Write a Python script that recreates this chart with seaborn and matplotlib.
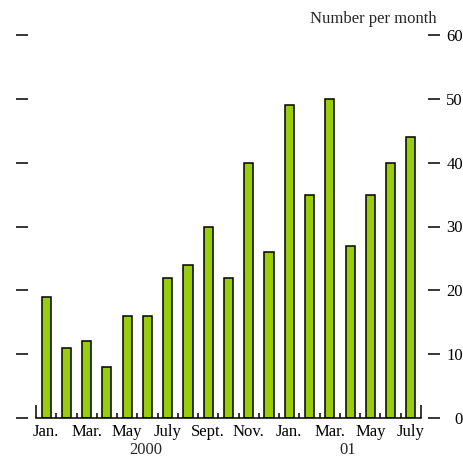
import matplotlib
matplotlib.use("Agg")
import matplotlib.pyplot as plt
import seaborn as sns
import pandas as pd
import numpy as np

# ---- data ----
months = ["2000-01", "2000-02", "2000-03", "2000-04", "2000-05", "2000-06",
          "2000-07", "2000-08", "2000-09", "2000-10", "2000-11", "2000-12",
          "2001-01", "2001-02", "2001-03", "2001-04", "2001-05", "2001-06",
          "2001-07"]
values = [19, 11, 12, 8, 16, 16, 22, 24, 30, 22, 40, 26,
          49, 35, 50, 27, 35, 40, 44]
tick_labels = ["Jan.", "Mar.", "May", "July", "Sept.", "Nov.",
               "Jan.", "Mar.", "May", "July"]
years = ["2000", "01"]
y_ticks = [0, 10, 20, 30, 40, 50, 60]

df = pd.DataFrame({"month": months, "value": values})

sns.set_theme(style="white")
plt.rcParams["font.family"] = ["Liberation Serif", "DejaVu Serif"]

fig = plt.figure(figsize=(4.64, 4.59), dpi=100)
ax = fig.add_axes([36 / 464, 41 / 459, 385 / 464, 383 / 459])

sns.barplot(data=df, x="month", y="value", color="#99cc0a", saturation=1,
            width=0.45, edgecolor="black", linewidth=1.1, ax=ax)

ax.set_xlim(-0.5, len(months) - 0.5)
ax.set_ylim(0, 60)
ax.set_xlabel("")
ax.set_ylabel("")

ax.spines["top"].set_visible(False)
ax.spines["bottom"].set_color("black")
ax.spines["bottom"].set_linewidth(1.1)

# y ticks on both sides, detached from the plot
ax.spines["left"].set_position(("outward", 5.8))
ax.spines["right"].set_position(("outward", 5))
ax.spines["left"].set_visible(False)
ax.spines["right"].set_visible(False)
ax.set_yticks(y_ticks)
ax.yaxis.set_ticks_position("both")
ax.tick_params(axis="y", which="major", direction="out", length=8.6, width=1.1,
               color="black", left=True, right=True, labelleft=False,
               labelright=True, labelsize=12, pad=16.5, labelcolor="black")
for lbl in ax.get_yticklabels():
    lbl.set_horizontalalignment("right")

# x ticks: labels every second month, small ticks at month boundaries
ax.set_xticks(np.arange(0, len(months), 2))
ax.set_xticklabels(tick_labels)
ax.set_xticks(np.arange(0.5, len(months) - 1, 1), minor=True)
ax.tick_params(axis="x", which="major", length=0, labelsize=12, pad=4,
               labelcolor="black")
ax.tick_params(axis="x", which="minor", direction="in", length=3.6, width=1.1,
               color="black", bottom=True)

ends = ax.secondary_xaxis("bottom")
ends.set_xticks([-0.5, len(months) - 0.5])
ends.set_xticklabels(["", ""])
ends.tick_params(direction="in", length=9.4, width=1.1, color="black")
ends.spines["bottom"].set_visible(False)

# year labels
ax.text(4.9, -0.062, years[0], transform=ax.get_xaxis_transform(),
        ha="center", va="top", fontsize=12)
ax.text(14.9, -0.062, years[1], transform=ax.get_xaxis_transform(),
        ha="center", va="top", fontsize=12)

ax.text(1.04, 1.02, "Number per month", transform=ax.transAxes,
        ha="right", va="bottom", fontsize=12)

fig.savefig("out.png", dpi=100)
